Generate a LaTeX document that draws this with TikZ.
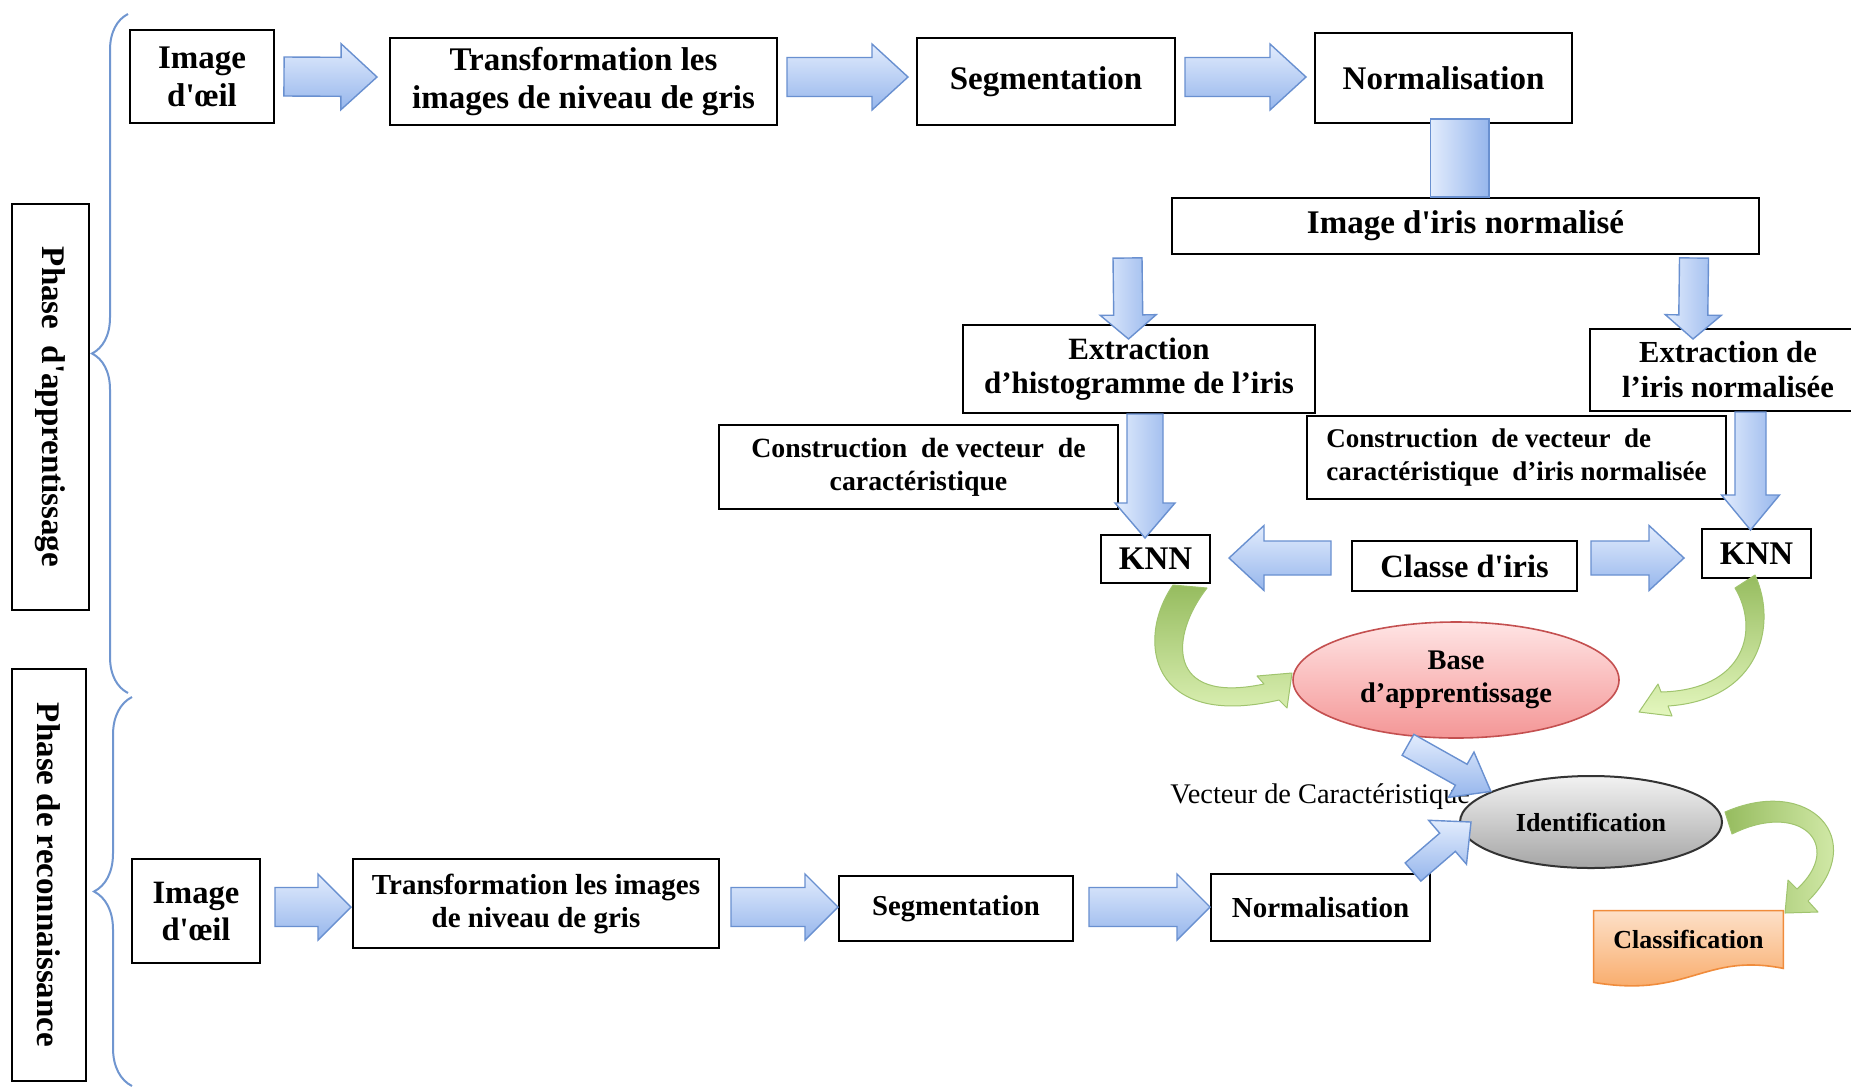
\documentclass[tikz,border=0pt]{standalone}
\usepackage{fontspec}
\setmainfont{Liberation Serif}
\usetikzlibrary{shapes.geometric,calc,decorations.pathreplacing,backgrounds}

\definecolor{arrlight}{RGB}{226,236,253}
\definecolor{arrdark}{RGB}{150,182,236}
\definecolor{arrline}{RGB}{105,144,208}
\definecolor{brcol}{RGB}{112,150,208}
\definecolor{grdark}{RGB}{150,188,95}
\definecolor{grlight}{RGB}{228,247,190}
\definecolor{grline}{RGB}{160,196,110}
\definecolor{pinktop}{RGB}{255,228,228}
\definecolor{pinkbot}{RGB}{244,150,150}
\definecolor{pinkline}{RGB}{196,80,80}
\definecolor{greytop}{RGB}{242,242,242}
\definecolor{greybot}{RGB}{165,165,165}
\definecolor{orgtop}{RGB}{253,224,200}
\definecolor{orgbot}{RGB}{248,165,95}
\definecolor{orgline}{RGB}{240,140,60}

\newcommand\fs[2]{\fontsize{#1}{#2}\selectfont}
\newcommand\sq{\textquotesingle}

\tikzset{
  box/.style={draw, line width=1pt, fill=white, align=center, inner sep=0pt},
  barrow/.style={draw=arrline, line width=0.7pt, line join=miter},
  hshade/.style={top color=arrlight, bottom color=arrdark},
  vshade/.style={left color=arrlight, right color=arrdark},
  garrow/.style={draw=grline, line width=0.5pt, line join=round},
  brc/.style={draw=brcol, line width=1pt, decorate},
}

% block arrow: [shading] from, to, shaft half-width, head half-width, head length
\newcommand\blockarrow[6][hshade]{%
  \coordinate (ba-s) at #2;
  \coordinate (ba-e) at #3;
  \coordinate (ba-h) at ($(ba-e)!#6!(ba-s)$);
  \path[barrow,#1] ($(ba-s)!#4!90:(ba-e)$) -- ($(ba-h)!#4!90:(ba-e)$)
    -- ($(ba-h)!#5!90:(ba-e)$) -- (ba-e) -- ($(ba-h)!#5!-90:(ba-e)$)
    -- ($(ba-h)!#4!-90:(ba-e)$) -- ($(ba-s)!#4!-90:(ba-e)$) -- cycle;}

\begin{document}
\begin{tikzpicture}[x=0.5pt, y=-0.5pt]
\useasboundingbox (0,0) rectangle (1851,1088);
\begin{scope}[on background layer]
  \fill[white] (0,0) rectangle (1851,1088);
\end{scope}

% phase labels and braces
\node[box, rotate=-90, font=\bfseries\fs{16.5}{19}, minimum width=203pt, minimum height=38.5pt] (ph1) at (50.5,407) {Phase~ d\sq{}apprentissage};
\node[box, rotate=-90, font=\bfseries\fs{16.5}{19}, minimum width=206pt, minimum height=37pt] (ph2) at (49,875) {Phase de reconnaissance};
\draw[brc, decoration={brace, amplitude=18pt}] (128,693) -- (128,14);
\draw[brc, decoration={brace, amplitude=19pt}] (132,1086) -- (132,697);

% learning chain
\node[box, font=\bfseries\fs{16.5}{19}, minimum width=72pt, minimum height=46.5pt] (img1) at (202,76.5) {Image\\d\sq{}œil};
\node[box, font=\bfseries\fs{16.5}{19}, minimum width=193.5pt, minimum height=43.5pt] (tr1) at (583.5,81.5) {Transformation les\\images de niveau de gris};
\node[box, font=\bfseries\fs{16.5}{19}, minimum width=129pt, minimum height=43.5pt] (seg1) at (1046,81.5) {Segmentation};
\node[box, font=\bfseries\fs{16.5}{19}, minimum width=128.5pt, minimum height=45pt] (norm1) at (1443.5,78) {Normalisation};
\node[box, font=\bfseries\fs{16.5}{19}, minimum width=293.5pt, minimum height=28pt] (irisn) at (1465.5,226) {Image d\sq{}iris normalisé};
\node[box, font=\bfseries\fs{15.5}{17}, minimum width=176pt, minimum height=44pt] (exh) at (1139,369) {Extraction\\d’histogramme de l’iris};
\node[box, font=\bfseries\fs{15.3}{17.5}, minimum width=138pt, minimum height=41pt] (exn) at (1728,370) {Extraction de\\l’iris normalisée};
\node[box, font=\bfseries\fs{13.9}{16.5}, minimum width=199.5pt, minimum height=42pt] (conL) at (918.5,467) {Construction~ de vecteur~ de\\caractéristique};
\node[box, align=left, font=\bfseries\fs{13.5}{16.5}, minimum width=209.5pt, minimum height=41.5pt] (conR) at (1516.5,457.5) {Construction~ de vecteur~ de\\caractéristique~ d’iris normalisée};
\node[box, font=\bfseries\fs{16.5}{19}, minimum width=54.5pt, minimum height=24pt] (knnL) at (1155.5,559) {KNN};
\node[box, font=\bfseries\fs{16.5}{19}, minimum width=54.5pt, minimum height=24.5pt] (knnR) at (1756.5,553.5) {KNN};
\node[box, font=\bfseries\fs{16.2}{19}, minimum width=112.5pt, minimum height=25pt] (classe) at (1464.5,566) {Classe d\sq{}iris};
\node[ellipse, draw=pinkline, line width=0.8pt, top color=pinktop, bottom color=pinkbot, minimum width=163pt, minimum height=58pt, inner sep=0pt, align=center, font=\bfseries\fs{14.2}{16.5}] (base) at (1456,680) {Base\\d’apprentissage};

% recognition chain
\node[anchor=west, inner sep=0pt, font=\fs{14.2}{17}] (vec) at (1170,797) {Vecteur de Caractéristique};
\node[ellipse, draw=black!80, line width=1pt, top color=greytop, bottom color=greybot, minimum width=131pt, minimum height=46pt, inner sep=0pt, font=\bfseries\fs{13}{15}] (ident) at (1591,822) {Identification};
\node[inner sep=0pt, minimum width=94.5pt, minimum height=28.5pt, font=\bfseries\fs{13}{15}] (classif) at (1688.5,939.5) {Classification};
\begin{scope}[on background layer]
  \path[draw=orgline, line width=0.8pt, top color=orgtop, bottom color=orgbot]
    (classif.north west) -- (classif.north east) -- (classif.south east)
    .. controls ($(classif.south east)+(-80,-16)$) and ($(classif.south west)+(95,30)$) .. ($(classif.south west)+(0,14)$) -- cycle;
\end{scope}
\node[box, font=\bfseries\fs{16.3}{18.5}, minimum width=64pt, minimum height=52pt] (img2) at (196,911) {Image\\d\sq{}œil};
\node[box, font=\bfseries\fs{14.5}{16.5}, minimum width=183pt, minimum height=44.5pt] (tr2) at (536,903.5) {Transformation les images\\de niveau de gris};
\node[box, font=\bfseries\fs{14.4}{17}, minimum width=117pt, minimum height=32.5pt] (seg2) at (956,908.5) {Segmentation};
\node[box, font=\bfseries\fs{14.5}{17}, minimum width=109.5pt, minimum height=33.5pt] (norm2) at (1320.5,907.5) {Normalisation};

% block arrows, learning phase
\blockarrow{($(img1.east)+(9,0)$)}{($(tr1.west)+(-12,-4.5)$)}{9.75pt}{16.5pt}{18pt}
\blockarrow{($(tr1.east)+(9,-4.5)$)}{($(seg1.west)+(-8,-4.5)$)}{9.75pt}{16.5pt}{18pt}
\blockarrow{($(seg1.east)+(9,-4.5)$)}{($(norm1.west)+(-8,-1)$)}{9.75pt}{16.5pt}{18pt}
\path[barrow, vshade] ($(norm1.south)+(-13,-5)$) rectangle ($(irisn.north)+(23.5,0)$);
\blockarrow[vshade]{($(irisn.south west)+(-43.5,3)$)}{($(exh.north)+(-10.5,15)$)}{7.25pt}{14pt}{12pt}
\blockarrow[vshade]{($(irisn.south east)+(-66,3)$)}{($(exn.north)+(-35,11)$)}{7.25pt}{14pt}{12pt}
\blockarrow[vshade]{($(exh.south)+(6,0)$)}{($(knnL.north)+(-10.5,4)$)}{9pt}{15pt}{17.5pt}
\blockarrow[vshade]{($(exn.south)+(22.5,0)$)}{($(knnR.north)+(-6,2)$)}{7.75pt}{14.5pt}{17.5pt}
\blockarrow{($(classe.west)+(-20,-8)$)}{($(knnL.east)+(18,-1)$)}{8.5pt}{16.25pt}{17.5pt}
\blockarrow{($(classe.east)+(13,-8)$)}{($(knnR.west)+(-17,4.5)$)}{8.5pt}{16.25pt}{17.5pt}

% curved arrows into and out of the learning base
\path[garrow, top color=grdark, bottom color=grlight]
  (1173,585) .. controls (1135,640) and (1150,730) .. (1279,700)
  -- (1287,708) -- (1292,673) -- (1257,676) -- (1264,684)
  .. controls (1165,705) and (1170,635) .. (1207,588) -- cycle;
\path[garrow, top color=grdark, bottom color=grlight]
  (1755,575) .. controls (1778,625) and (1760,700) .. (1668,706)
  -- (1672,716) -- (1639,712) -- (1658,684) -- (1661,692)
  .. controls (1745,690) and (1760,630) .. (1735,588) -- cycle;
\path[garrow, left color=grdark, right color=grlight]
  (1725,812) .. controls (1810,775) and (1870,840) .. (1808,901)
  -- (1818,912) -- (1785,913) -- (1788,880) -- (1797,889)
  .. controls (1845,845) and (1800,800) .. (1732,834) -- cycle;

% block arrows, recognition phase
\blockarrow{($(img2.east)+(14,-4)$)}{($(tr2.west)+(-1,3.5)$)}{9.75pt}{16.5pt}{16.5pt}
\blockarrow{($(tr2.east)+(11,3.5)$)}{($(seg2.west)+(0,-1.5)$)}{9.75pt}{16.5pt}{16.5pt}
\blockarrow{($(seg2.east)+(15,-1.5)$)}{($(norm2.west)+(0,-0.5)$)}{9.75pt}{16.5pt}{16.5pt}
\blockarrow{($(base.south)+(-48,6)$)}{(ident.163)}{6pt}{13pt}{17pt}
\blockarrow{($(norm2.north east)+(-18,-1)$)}{($(ident.west)+(12,0)$)}{6pt}{14.5pt}{15.5pt}
\end{tikzpicture}
\end{document}
